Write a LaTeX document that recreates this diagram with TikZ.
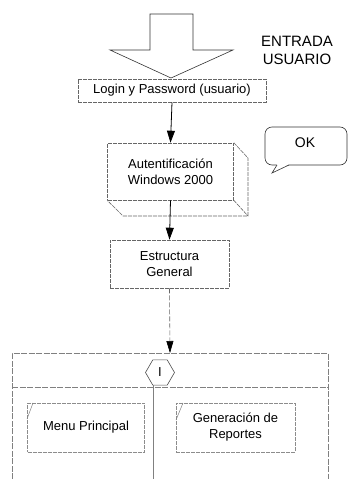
\documentclass[tikz,border=0pt]{standalone}
\usepackage{fontspec}
\setmainfont{Liberation Sans}
\usetikzlibrary{arrows.meta,shapes.geometric}
\begin{document}
\begin{tikzpicture}[x=1pt,y=-1pt,
  every node/.style={font=\fontsize{13}{16}\selectfont, align=center, inner sep=0pt},
  gbox/.style={draw=black!60, dash pattern=on 4pt off 1pt, line width=0.6pt, rectangle},
  conn/.style={draw=black, line width=0.8pt, -{Triangle[length=12pt,width=8pt]}},
  dconn/.style={draw=black!60, line width=0.6pt, dash pattern=on 5pt off 2pt, -{Triangle[length=12pt,width=7pt,fill=black,color=black]}},
  slash/.style={draw=black!50, line width=0.5pt}
]
\useasboundingbox (0,0) rectangle (348,479);

% big input arrow
\draw[line width=0.6pt, draw=black!80] (150,14) -- (193,14) -- (193,50) -- (233,50) -- (171,78) -- (110,50) -- (150,50) -- cycle;
\node[font=\fontsize{15}{18}\selectfont] (entrada) at (297,50) {ENTRADA\\USUARIO};

\node[gbox, minimum width=188pt, minimum height=23pt] (login) at (172,90.5) {Login y Password (usuario)};

% 3D box
\node[gbox, minimum width=126pt, minimum height=57pt] (auth) at (170.5,171.5) {Autentificaci\'on\\Windows 2000};
\draw[draw=black!60, line width=0.6pt, dash pattern=on 4pt off 1pt]
  (auth.north east) -- (248,158) -- (248,216) -- (123,216) -- (auth.south west)
  (auth.south east) -- (248,216);

% OK callout
\node[draw=black!80, line width=0.6pt, rounded corners=7pt, minimum width=82pt, minimum height=38pt] (ok) at (306,146) {};
\node[font=\fontsize{14}{16}\selectfont] at (305,143) {OK};
\fill[white] (277,164.2) -- (272,173) -- (289,164.2) -- cycle;
\draw[draw=black!80, line width=0.6pt] (277,165) -- (272,173) -- (289,165);

\node[gbox, minimum width=119pt, minimum height=48pt] (estr) at (169.5,264) {Estructura\\General};

% container
\coordinate (ctop) at (170,353);
\draw[draw=black!50, line width=0.5pt, dash pattern=on 6pt off 1.5pt] (12,479) -- (12,353) -- (328,353) -- (328,479);
\draw[draw=black!50, line width=0.5pt, dash pattern=on 6pt off 1.5pt] (12,387) -- (328,387);
\node[draw=black!70, line width=0.6pt, regular polygon, regular polygon sides=6, minimum size=29pt] (hex) at (160,372.5) {I};
\coordinate (vbot) at (153,479);
\draw[draw=black!50, line width=0.5pt] (vbot |- hex.south) -- (vbot);

\node[gbox, draw=black!45, minimum width=117pt, minimum height=49pt] (menu) at (86,427.5) {\raisebox{-2pt}{Menu Principal}};
\draw[slash] (27,419) -- (33,403);
\node[gbox, draw=black!45, minimum width=119pt, minimum height=49pt] (gen) at (235.5,427.5) {Generaci\'on de\\Reportes};
\draw[slash] (176,420) -- (183,403);

% connectors
\draw[conn] (login.south) -- (auth.north);
\draw[conn] (auth.south) -- (estr.north);
\draw[dconn] (estr.south) -- (ctop);
\end{tikzpicture}
\end{document}
